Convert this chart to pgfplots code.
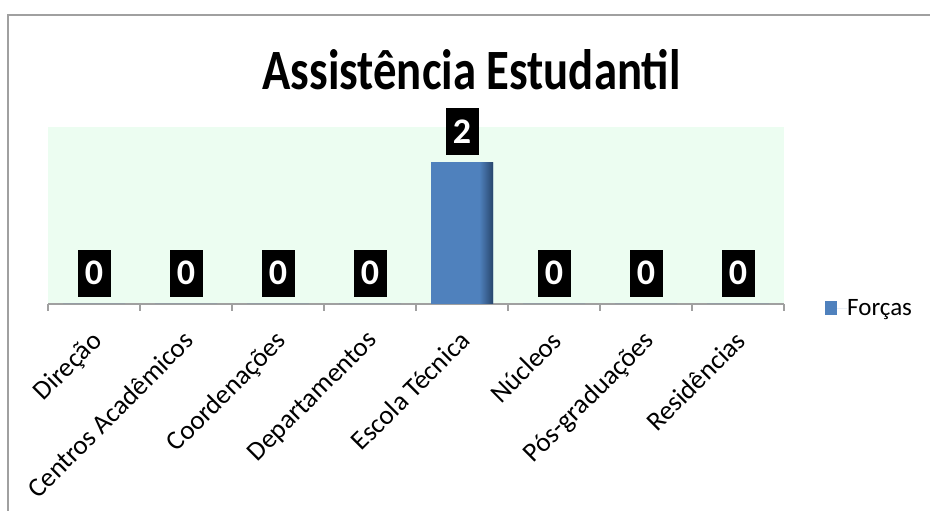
\documentclass[border=0pt]{standalone}
\usepackage{pgfplots}
\pgfplotsset{compat=1.18}
\usepackage{pgfplotstable}
\usepackage{fontspec}
\setmainfont{Carlito}
\definecolor{barblue}{RGB}{79,129,189}
\definecolor{bardark}{RGB}{40,70,108}
\definecolor{plotbg}{RGB}{236,253,241}
\definecolor{axgray}{RGB}{160,160,160}
\pgfdeclarehorizontalshading{barshade}{100bp}{color(0bp)=(barblue); color(25bp)=(barblue); color(64bp)=(barblue); color(75bp)=(bardark); color(100bp)=(bardark)}
\pgfplotstableread{
x y
0 0
1 0
2 0
3 0
4 2
5 0
6 0
7 0
}\datatable
\begin{document}
\begin{tikzpicture}[x=1bp,y=1bp]
\useasboundingbox (0,0) rectangle (930,511);
\draw[axgray, line width=1.2bp] (8,0) -- (8,496) -- (930,496);
\node[anchor=base] at (471.5,421) {\scalebox{0.82}[1]{\fontsize{57bp}{68bp}\selectfont\bfseries Assistência Estudantil}};
\begin{axis}[
  at={(48bp,207bp)}, anchor=south west,
  scale only axis, width=736bp, height=177bp,
  xmin=-0.5, xmax=7.5, ymin=0, ymax=2.5,
  clip=false,
  axis x line*=bottom, axis y line=none,
  axis line style={-, axgray, line width=1.2bp},
  axis background/.style={fill=plotbg},
  xtick={0,...,7},
  xticklabels={Direção, Centros Acadêmicos, Coordenações, Departamentos, Escola Técnica, Núcleos, Pós-graduações, Residências},
  major tick length=0pt,
  minor xtick={-0.5,0.5,...,7.5},
  minor tick length=7bp,
  tick align=outside,
  minor tick style={axgray, line width=1.2bp},
  ytick=\empty,
  x tick label style={xshift=-4bp, yshift=-25bp, rotate=45, anchor=north east, inner sep=0pt, font=\fontsize{27bp}{31bp}\selectfont},
  /pgf/number format/assume math mode=true,
  legend style={at={(1.0557,-0.0254)}, anchor=west, draw=none, fill=none, inner sep=0pt, font=\fontsize{25bp}{29bp}\selectfont, legend cell align=left, nodes={inner sep=0pt}},
  legend image code/.code={\fill[barblue] (0bp,-7bp) rectangle (12bp,7bp); \path (0bp,0bp) -- (22bp,0bp);},
]
\addplot[ybar, bar width=62bp, draw=none, fill=barblue,
  nodes near coords,
  every node near coord/.append style={fill=black, text=white, font=\bfseries\fontsize{36bp}{40bp}\selectfont, minimum width=33bp, minimum height=47bp, inner sep=0pt, anchor=south, yshift=7bp}]
  table[x=x, y=y] {\datatable};
\addlegendentry{Forças}
\addplot[ybar, bar width=62bp, draw=none, shading=barshade, restrict y to domain=0.5:10, forget plot]
  table[x=x, y=y] {\datatable};
\end{axis}
\end{tikzpicture}
\end{document}
